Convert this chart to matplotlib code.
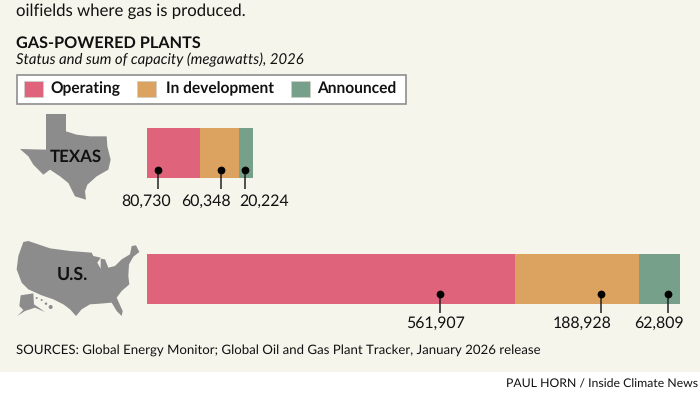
import matplotlib
matplotlib.use("Agg")
import matplotlib.pyplot as plt
from matplotlib.patches import Polygon, Rectangle

regions = ["TEXAS", "U.S."]
statuses = ["Operating", "In development", "Announced"]
texas_mw = [80730, 60348, 20224]
us_mw = [561907, 188928, 62809]
status_colors = ["#DE637B", "#DCA25F", "#76A08A"]

W, H = 700, 394
FONT = "Lato"
plt.rcParams["font.family"] = [FONT, "DejaVu Sans"]
plt.rcParams["text.hinting"] = "no_hinting"
fig = plt.figure(figsize=(W / 100, H / 100), dpi=100, facecolor="white")

ov = fig.add_axes([0, 0, 1, 1], zorder=1)
ov.set_xlim(0, W); ov.set_ylim(H, 0); ov.axis("off")
ov.add_patch(Rectangle((0, 0), W, 372, fc="#F5F5EC", ec="none"))

ov.text(16.5, 11.5, "oilfields where gas is produced.", fontsize=12.1, va="center", color="#111111")
ov.text(16.5, 43.5, "GAS-POWERED PLANTS", fontsize=11.7, fontweight="bold", va="center", color="#111111")
ov.text(16.5, 60, "Status and sum of capacity (megawatts), 2026", fontsize=10.7, style="italic", va="center", color="#111111")

ov.add_patch(Rectangle((17, 75), 389, 28.5, fc="white", ec="#8E8E8E", lw=1.2))
swatch_x = [24, 137, 291]
label_x = [50, 165.5, 317]
label_y = [93, 93, 93.7]
for name, c, sx, lx, ly in zip(statuses, status_colors, swatch_x, label_x, label_y):
    ov.add_patch(Rectangle((sx, 81), 19, 15.5, fc=c, ec="#CFCFC8", lw=0.6))
    ov.text(lx, ly, name, fontsize=11.2, fontweight="bold", va="baseline", color="#111111")

# maps (schematic outlines)
GRAY = "#8C8C8C"
tx = [(108,18),(168,18),(168,70),(200,80),(240,85),(290,85),(292,115),(302,155),(295,185),(260,205),
      (232,230),(225,250),(228,275),(195,265),(175,225),(150,205),(120,185),(100,200),(70,170),(55,145),
      (30,123),(108,125)]
ov.add_patch(Polygon([(10+x/3, 108+y/3) for x, y in tx], fc=GRAY, ec="none"))
us = [(40,18),(55,15),(120,37),(180,45),(245,50),(250,60),(272,65),(262,80),(272,98),(272,68),(285,70),
      (295,95),(315,90),(335,70),(360,55),(365,30),(378,28),(388,48),(370,62),(357,85),(355,120),(358,145),
      (335,165),(320,185),(338,225),(335,240),(320,225),(305,200),(270,203),(240,205),(215,220),(198,240),
      (180,220),(160,205),(130,190),(95,178),(55,160),(35,140),(20,100),(25,60)]
ov.add_patch(Polygon([(10+x/3, 236+y/3) for x, y in us], fc=GRAY, ec="none"))
ak = [(32,178),(70,172),(72,205),(105,228),(75,215),(45,225),(22,240),(40,222),(28,210)]
ov.add_patch(Polygon([(10+x/3, 236+y/3) for x, y in ak], fc=GRAY, ec="none"))
for hx, hy, r in [(80,186,2),(95,192,2),(108,203,2.5),(122,213,4)]:
    ov.add_patch(plt.Circle((10+hx/3, 236+hy/3), r/2, fc=GRAY, ec="none"))
ov.text(76, 157, regions[0], fontsize=12.2, fontweight="bold", ha="center", va="center", color="#111111")
ov.text(72, 274.5, regions[1], fontsize=12.8, fontweight="bold", ha="center", va="center", color="#111111")

# bars on a shared capacity scale
ax = fig.add_axes([147 / W, 1 - 304 / H, 533 / W, 176 / H], zorder=2)
ax.set_xlim(0, sum(us_mw))
ax.set_ylim(1 + 25 / 126, -25 / 126)
ax.axis("off")
ax.patch.set_alpha(0)
for row, vals in enumerate([texas_mw, us_mw]):
    left = 0
    for v, c in zip(vals, status_colors):
        ax.barh(row, v, left=left, height=50 / 126, color=c, edgecolor="none")
        left += v

lab = fig.add_axes([0, 0, 1, 1], zorder=3)
lab.set_xlim(0, W); lab.set_ylim(H, 0); lab.axis("off"); lab.patch.set_alpha(0)
callouts = [
    (texas_mw, [158, 220.5, 245], [146, 206, 264], 169.5, 189, 201),
    (us_mw, [440, 601, 668], [436, 582.5, 659], 294, 313, 323),
]
for vals, xs, tx_, y0, y1, ty in callouts:
    for v, x, t in zip(vals, xs, tx_):
        lab.plot([x, x], [y0, y1], color="#222222", lw=1.1, solid_capstyle="butt")
        lab.plot([x], [y0], "o", color="black", ms=5.6, mew=0)
        lab.text(t, ty, f"{v:,}", fontsize=11.4, ha="center", va="center", color="#111111")

lab.text(16.5, 350.5, "SOURCES: Global Energy Monitor; Global Oil and Gas Plant Tracker, January 2026 release",
         fontsize=9.5, va="center", color="#111111")
lab.text(698, 384.5, "PAUL HORN / Inside Climate News", fontsize=8.8, ha="right", va="center", color="#111111")

fig.savefig("out.png", dpi=100, facecolor="white")
